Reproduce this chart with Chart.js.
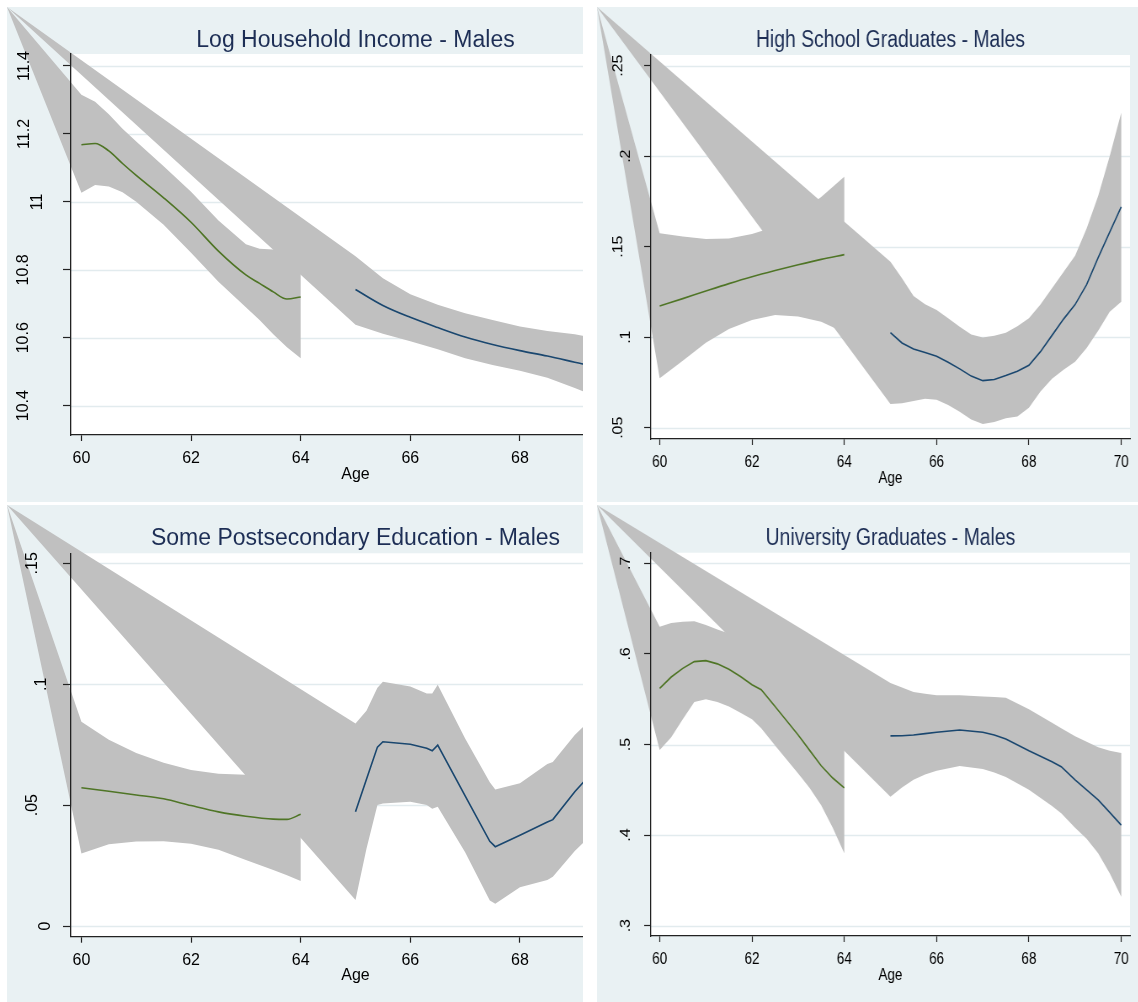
<!DOCTYPE html>
<html>
<head>
<meta charset="utf-8">
<script src="https://cdn.jsdelivr.net/npm/chart.js@4.4.1/dist/chart.umd.min.js"></script>
<style>
  html, body { margin: 0; padding: 0; background: #ffffff; }
  body { width: 1138px; height: 1002px; position: relative; overflow: hidden; }
  .panel { position: absolute; overflow: hidden; }
  .panel canvas { position: absolute; left: 0; top: 0; }
  .narrow canvas { transform: scaleX(0.842); transform-origin: 0 0; }
</style>
</head>
<body>
<div class="panel" style="left:7px;top:7px;width:576px;height:495px"><canvas id="c1" width="643" height="495"></canvas></div>
<div class="panel narrow" style="left:597px;top:7px;width:541px;height:495px"><canvas id="c2" width="643" height="495"></canvas></div>
<div class="panel" style="left:7px;top:505px;width:576px;height:497px"><canvas id="c3" width="643" height="497"></canvas></div>
<div class="panel narrow" style="left:597px;top:505px;width:541px;height:497px"><canvas id="c4" width="643" height="497"></canvas></div>

<script>
// ---------- shared axis ----------
const ageTicks = [60, 62, 64, 66, 68, 70];

// ---------- Log household income ----------
const incPreAge  = [60, 60.25, 60.5, 60.75, 61, 61.5, 62, 62.5, 63, 63.25, 63.5, 63.75, 64];
const incPreFit  = [11.168, 11.172, 11.150, 11.113, 11.078, 11.012, 10.940, 10.855, 10.785, 10.760, 10.735, 10.714, 10.720];
const incPreHi   = [11.315, 11.295, 11.258, 11.215, 11.178, 11.105, 11.030, 10.945, 10.875, 10.862, 10.860, 10.865, 10.900];
const incPreLo   = [11.027, 11.050, 11.045, 11.028, 11.000, 10.933, 10.850, 10.765, 10.690, 10.652, 10.610, 10.572, 10.540];
const incPostAge = [65, 65.5, 66, 66.5, 67, 67.5, 68, 68.5, 69, 69.5, 70];
const incPostFit = [10.742, 10.695, 10.660, 10.630, 10.602, 10.580, 10.562, 10.546, 10.528, 10.510, 10.490];
const incPostHi  = [10.840, 10.775, 10.728, 10.697, 10.672, 10.652, 10.633, 10.620, 10.610, 10.595, 10.580];
const incPostLo  = [10.638, 10.612, 10.590, 10.566, 10.540, 10.520, 10.503, 10.482, 10.452, 10.420, 10.390];
const incTicks   = [10.4, 10.6, 10.8, 11, 11.2, 11.4];
const incLabels  = ['10.4', '10.6', '10.8', '11', '11.2', '11.4'];

// ---------- High school graduates ----------
const hsPreAge  = [60, 60.5, 61, 61.5, 62, 62.5, 63, 63.5, 64];
const hsPreFit  = [0.1172, 0.1213, 0.1255, 0.1296, 0.1334, 0.1368, 0.1400, 0.1430, 0.1456];
const hsPreHi   = [0.1574, 0.1556, 0.1542, 0.1545, 0.1570, 0.1610, 0.1680, 0.1775, 0.1887];
const hsPreLo   = [0.0773, 0.0870, 0.0970, 0.1045, 0.1095, 0.1123, 0.1115, 0.1085, 0.1026];
const hsPostAge = [65, 65.25, 65.5, 65.75, 66, 66.25, 66.5, 66.75, 67, 67.25, 67.5, 67.75, 68, 68.25, 68.5, 68.75, 69, 69.25, 69.5, 69.75, 70];
const hsPostFit = [0.1025, 0.0968, 0.0935, 0.0915, 0.0895, 0.0862, 0.0825, 0.0785, 0.0760, 0.0766, 0.0788, 0.0812, 0.0845, 0.0920, 0.1010, 0.1100, 0.1180, 0.1290, 0.1440, 0.1580, 0.1720];
const hsPostHi  = [0.1417, 0.1325, 0.1228, 0.1182, 0.1150, 0.1105, 0.1058, 0.1015, 0.0998, 0.1008, 0.1025, 0.1060, 0.1105, 0.1180, 0.1270, 0.1360, 0.1450, 0.1600, 0.1780, 0.2000, 0.2240];
const hsPostLo  = [0.0631, 0.0635, 0.0648, 0.0660, 0.0655, 0.0625, 0.0588, 0.0545, 0.0520, 0.0532, 0.0552, 0.0562, 0.0610, 0.0700, 0.0770, 0.0820, 0.0865, 0.0940, 0.1035, 0.1140, 0.1196];
const hsTicks   = [0.05, 0.1, 0.15, 0.2, 0.25];
const hsLabels  = ['.05', '.1', '.15', '.2', '.25'];

// ---------- Some postsecondary education ----------
const psPreAge  = [60, 60.5, 61, 61.5, 62, 62.5, 63, 63.5, 63.75, 64];
const psPreFit  = [0.0572, 0.0557, 0.0542, 0.0526, 0.0498, 0.0472, 0.0454, 0.0442, 0.0441, 0.0462];
const psPreHi   = [0.0845, 0.0770, 0.0715, 0.0675, 0.0645, 0.0630, 0.0626, 0.0650, 0.0690, 0.0738];
const psPreLo   = [0.0300, 0.0338, 0.0349, 0.0350, 0.0340, 0.0315, 0.0273, 0.0232, 0.0210, 0.0186];
const psPostAge = [65, 65.2, 65.4, 65.5, 66, 66.3, 66.4, 66.5, 67, 67.45, 67.55, 68, 68.5, 68.6, 69, 69.5, 70];
const psPostFit = [0.0473, 0.0607, 0.0740, 0.0762, 0.0752, 0.0735, 0.0725, 0.0748, 0.0538, 0.0350, 0.0328, 0.0375, 0.0430, 0.0440, 0.0555, 0.0680, 0.0800];
const psPostHi  = [0.0838, 0.0890, 0.0985, 0.1010, 0.0990, 0.0962, 0.0962, 0.0998, 0.0775, 0.0595, 0.0565, 0.0590, 0.0670, 0.0678, 0.0790, 0.0900, 0.1000];
const psPostLo  = [0.0108, 0.0320, 0.0500, 0.0507, 0.0514, 0.0500, 0.0485, 0.0493, 0.0305, 0.0105, 0.0092, 0.0160, 0.0190, 0.0204, 0.0310, 0.0420, 0.0520];
const psTicks   = [0, 0.05, 0.1, 0.15];
const psLabels  = ['0', '.05', '.1', '.15'];

// ---------- University graduates ----------
const uniPreAge  = [60, 60.25, 60.5, 60.75, 61, 61.25, 61.5, 61.75, 62, 62.2, 62.5, 63, 63.25, 63.5, 63.75, 64];
const uniPreFit  = [0.5620, 0.5745, 0.5840, 0.5915, 0.5926, 0.5890, 0.5830, 0.5750, 0.5660, 0.5605, 0.5420, 0.5105, 0.4935, 0.4765, 0.4630, 0.4522];
const uniPreHi   = [0.6300, 0.6340, 0.6355, 0.6360, 0.6320, 0.6270, 0.6225, 0.6130, 0.6030, 0.5980, 0.5850, 0.5530, 0.5350, 0.5200, 0.5180, 0.5240];
const uniPreLo   = [0.4940, 0.5080, 0.5280, 0.5470, 0.5500, 0.5470, 0.5420, 0.5350, 0.5280, 0.5180, 0.4990, 0.4680, 0.4520, 0.4330, 0.4080, 0.3800];
const uniPostAge = [65, 65.25, 65.5, 65.75, 66, 66.5, 67, 67.25, 67.5, 68, 68.5, 68.7, 69, 69.25, 69.5, 69.75, 70];
const uniPostFit = [0.5095, 0.5097, 0.5105, 0.5120, 0.5135, 0.5160, 0.5135, 0.5105, 0.5060, 0.4930, 0.4810, 0.4755, 0.4610, 0.4500, 0.4388, 0.4250, 0.4110];
const uniPostHi  = [0.5680, 0.5630, 0.5580, 0.5560, 0.5545, 0.5545, 0.5530, 0.5525, 0.5515, 0.5390, 0.5240, 0.5180, 0.5090, 0.5030, 0.4970, 0.4930, 0.4905];
const uniPostLo  = [0.4423, 0.4525, 0.4610, 0.4668, 0.4710, 0.4762, 0.4730, 0.4690, 0.4640, 0.4500, 0.4320, 0.4240, 0.4080, 0.3960, 0.3800, 0.3580, 0.3320];
const uniTicks   = [0.3, 0.4, 0.5, 0.6, 0.7];
const uniLabels  = ['.3', '.4', '.5', '.6', '.7'];

// ---------- styling ----------
const FONT = '"Liberation Sans", Arial, Helvetica, sans-serif';
const PANEL_BG = '#E9F1F3';
const GRID = '#E2EBEE';
const BAND = '#C0C0C0';
const GREEN = '#4F7526';
const NAVY = '#1A476F';
const AXIS = '#222222';
const TITLE = '#1D2E55';
const Y_AXIS_WIDTH = 64;
const X_AXIS_HEIGHT = 60;

function zip(xs, ys) { return xs.map((x, i) => ({ x: x, y: ys[i] })); }

function lineDataset(ages, values, color, smooth) {
  return {
    data: zip(ages, values),
    borderColor: color,
    borderWidth: 1.6,
    pointRadius: 0,
    fill: false,
    tension: smooth ? 0.4 : 0,
    cubicInterpolationMode: smooth ? 'monotone' : 'default'
  };
}

// Background, plot region, grid lines and confidence bands (bands start at the panel corner).
function panelPlugin(panel) {
  return {
    id: 'panelPaint',
    beforeDraw(chart) {
      const { ctx, chartArea: a, scales } = chart;
      const xs = scales.x, ys = scales.y;
      ctx.save();
      ctx.fillStyle = PANEL_BG;
      ctx.fillRect(0, 0, chart.width, chart.height);
      ctx.fillStyle = '#ffffff';
      ctx.fillRect(a.left, a.top, a.right - a.left, a.bottom - a.top);
      ctx.strokeStyle = GRID;
      ctx.lineWidth = 1.5;
      panel.yTicks.forEach(v => {
        const py = Math.round(ys.getPixelForValue(v)) + 0.5;
        ctx.beginPath();
        ctx.moveTo(a.left, py);
        ctx.lineTo(a.right, py);
        ctx.stroke();
      });
      ctx.fillStyle = BAND;
      panel.bands.forEach(b => {
        ctx.beginPath();
        ctx.moveTo(0, 0);
        for (let i = 0; i < b.age.length; i++) {
          ctx.lineTo(xs.getPixelForValue(b.age[i]), ys.getPixelForValue(b.hi[i]));
        }
        for (let i = b.age.length - 1; i >= 0; i--) {
          ctx.lineTo(xs.getPixelForValue(b.age[i]), ys.getPixelForValue(b.lo[i]));
        }
        ctx.closePath();
        ctx.fill();
      });
      ctx.restore();
    },
    afterDraw(chart) {
      // vertical y tick labels
      const { ctx } = chart;
      const ys = chart.scales.y;
      ctx.save();
      ctx.font = '16px ' + FONT;
      ctx.fillStyle = '#000000';
      ctx.textAlign = 'center';
      ctx.textBaseline = 'alphabetic';
      panel.yTicks.forEach((v, i) => {
        const label = panel.yLabels[i];
        const w = ctx.measureText(label).width;
        const py = ys.getPixelForValue(v);
        const xb = ys.right - 12 - w;
        ctx.save();
        ctx.translate(xb, py);
        ctx.rotate(-Math.PI / 2);
        ctx.fillText(label, 0, 0);
        ctx.restore();
      });
      ctx.restore();
    }
  };
}

function makePanel(id, panel) {
  const canvas = document.getElementById(id);
  const H = canvas.height;
  return new Chart(canvas, {
    type: 'line',
    data: {
      datasets: [
        lineDataset(panel.bands[0].age, panel.preFit, GREEN, panel.smoothPre),
        lineDataset(panel.bands[1].age, panel.postFit, NAVY, panel.smoothPost)
      ]
    },
    options: {
      responsive: false,
      animation: false,
      devicePixelRatio: 1,
      events: [],
      layout: { padding: { left: 0, right: 10, top: 0, bottom: H - panel.plotBottom - X_AXIS_HEIGHT } },
      plugins: {
        legend: { display: false },
        tooltip: { enabled: false },
        title: {
          display: true,
          text: panel.title,
          fullSize: false,
          color: TITLE,
          font: { family: FONT, size: 23, weight: 'normal', lineHeight: 1 },
          padding: { top: 22.5, bottom: panel.plotTop - 45.5 }
        }
      },
      scales: {
        x: {
          type: 'linear',
          position: 'bottom',
          min: 59.81,
          max: 70.19,
          afterBuildTicks: s => { s.ticks = ageTicks.map(v => ({ value: v })); },
          afterFit: s => { s.height = X_AXIS_HEIGHT; },
          ticks: {
            autoSkip: false,
            maxRotation: 0,
            padding: 8,
            color: '#000000',
            font: { family: FONT, size: 16, lineHeight: 1.2 },
            callback: v => String(v)
          },
          grid: { drawOnChartArea: false, drawTicks: true, tickLength: 6, tickColor: AXIS, tickWidth: 1.2 },
          border: { display: true, color: AXIS, width: 1.3 },
          title: {
            display: true,
            text: 'Age',
            color: '#000000',
            font: { family: FONT, size: 16, lineHeight: 1.2 },
            padding: { top: 0, bottom: 11.1 }
          }
        },
        y: {
          type: 'linear',
          position: 'left',
          min: panel.yMin,
          max: panel.yMax,
          afterBuildTicks: s => { s.ticks = panel.yTicks.map(v => ({ value: v })); },
          afterFit: s => { s.width = Y_AXIS_WIDTH; },
          ticks: { display: false },
          grid: { drawOnChartArea: false, drawTicks: true, tickLength: 8, tickColor: AXIS, tickWidth: 1.2 },
          border: { display: true, color: AXIS, width: 1.3 }
        }
      }
    },
    plugins: [panelPlugin(panel)]
  });
}

makePanel('c1', {
  title: 'Log Household Income - Males',
  yMin: 10.3137, yMax: 11.4353, plotTop: 47, plotBottom: 428,
  yTicks: incTicks, yLabels: incLabels,
  preFit: incPreFit, postFit: incPostFit, smoothPre: true, smoothPost: true,
  bands: [
    { age: incPreAge, hi: incPreHi, lo: incPreLo },
    { age: incPostAge, hi: incPostHi, lo: incPostLo }
  ]
});

makePanel('c2', {
  title: 'High School Graduates - Males',
  yMin: 0.04376, yMax: 0.2559, plotTop: 48, plotBottom: 432,
  yTicks: hsTicks, yLabels: hsLabels,
  preFit: hsPreFit, postFit: hsPostFit, smoothPre: true, smoothPost: false,
  bands: [
    { age: hsPreAge, hi: hsPreHi, lo: hsPreLo },
    { age: hsPostAge, hi: hsPostHi, lo: hsPostLo }
  ]
});

makePanel('c3', {
  title: 'Some Postsecondary Education - Males',
  yMin: -0.004425, yMax: 0.15414, plotTop: 48.3, plotBottom: 431.7,
  yTicks: psTicks, yLabels: psLabels,
  preFit: psPreFit, postFit: psPostFit, smoothPre: true, smoothPost: false,
  bands: [
    { age: psPreAge, hi: psPreHi, lo: psPreLo },
    { age: psPostAge, hi: psPostHi, lo: psPostLo }
  ]
});

makePanel('c4', {
  title: 'University Graduates - Males',
  yMin: 0.28863, yMax: 0.71171, plotTop: 47.7, plotBottom: 431,
  yTicks: uniTicks, yLabels: uniLabels,
  preFit: uniPreFit, postFit: uniPostFit, smoothPre: false, smoothPost: false,
  bands: [
    { age: uniPreAge, hi: uniPreHi, lo: uniPreLo },
    { age: uniPostAge, hi: uniPostHi, lo: uniPostLo }
  ]
});
</script>
</body>
</html>
